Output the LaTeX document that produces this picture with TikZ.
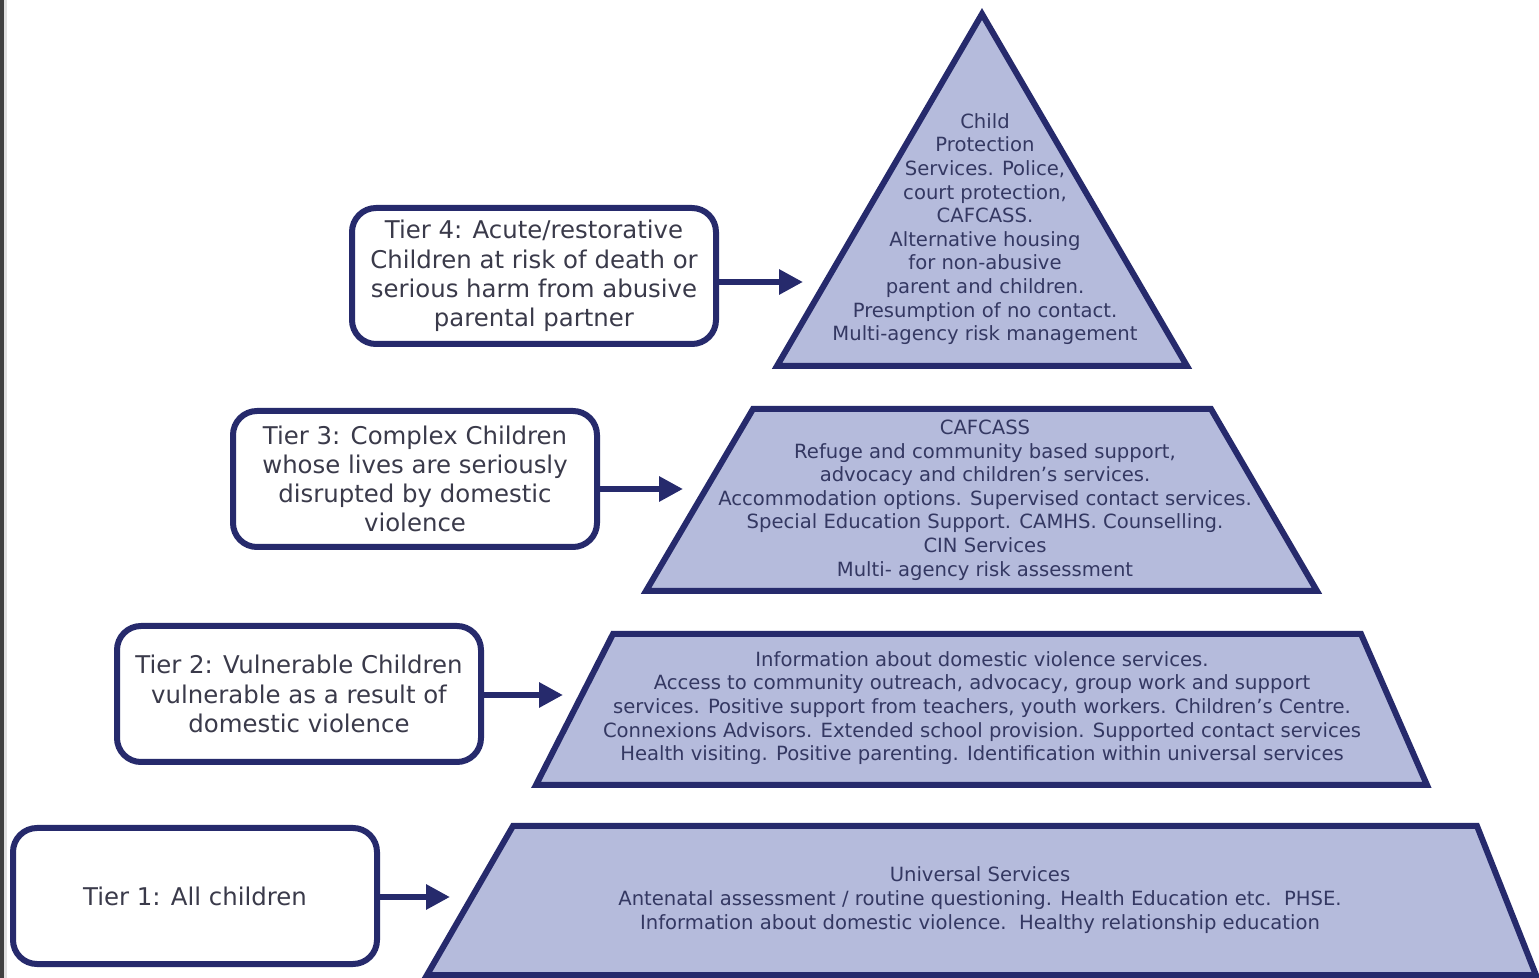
\documentclass[tikz,border=0pt]{standalone}
\usepackage{fontspec}
\setmainfont{DejaVu Sans}
\usetikzlibrary{arrows.meta}

\definecolor{navy}{RGB}{38,42,108}
\definecolor{tierfill}{RGB}{181,187,220}
\definecolor{tiertext}{RGB}{52,56,98}
\definecolor{boxtext}{RGB}{58,58,74}

\tikzset{
  tierbox/.style={draw=navy, line width=3pt, rounded corners=12pt, fill=white,
    text=boxtext, align=center, minimum width=182pt, minimum height=68pt,
    inner sep=2pt, font=\fontsize{12.2}{14.6}\selectfont},
  tiershape/.style={draw=navy, line width=3pt, fill=tierfill, line join=miter},
  tiertext/.style={text=tiertext, align=center, inner sep=0pt,
    font=\fontsize{9.8}{11.8}\selectfont},
  tierarrow/.style={draw=navy, line width=3pt,
    -{Triangle[length=12pt,width=12pt]}}
}

\begin{document}
\begin{tikzpicture}[x=0.5pt, y=-0.5pt]
    \fill[white] (0,0) rectangle (1539,978);
    \useasboundingbox (0,0) rectangle (1539,978);
    \fill[black!75] (0,0) rectangle (4,978);
    \fill[black!12] (4,0) rectangle (7,978);

    % pyramid
    \draw[tiershape] (982,14) -- (1187,366) -- (777,366) -- cycle;
    \draw[tiershape] (753,409) -- (1211,409) -- (1317,591) -- (646,591) -- cycle;
    \draw[tiershape] (613,634) -- (1361,634) -- (1427,785) -- (536,785) -- cycle;
    \draw[tiershape] (513,826) -- (1477,826) -- (1536,975) -- (427,975) -- cycle;

    \node[tiertext] (p4) at (985,229) {Child\\Protection\\Services. Police,\\court protection,\\CAFCASS.\\Alternative housing\\for non-abusive\\parent and children.\\Presumption of no contact.\\Multi-agency risk management};
    \node[tiertext] (p3) at (985,500) {CAFCASS\\Refuge and community based support,\\advocacy and children’s services.\\Accommodation options. Supervised contact services.\\Special Education Support. CAMHS. Counselling.\\CIN Services\\Multi- agency risk assessment};
    \node[tiertext] (p2) at (982,708) {Information about domestic violence services.\\Access to community outreach, advocacy, group work and support\\services. Positive support from teachers, youth workers. Children’s Centre.\\Connexions Advisors. Extended school provision. Supported contact services\\Health visiting. Positive parenting. Identification within universal services};
    \node[tiertext] (p1) at (980,900) {Universal Services\\Antenatal assessment / routine questioning. Health Education etc.\ \ PHSE.\\Information about domestic violence.\ \ Healthy relationship education};

    % tiers
    \node[tierbox] (t4) at (534,276) {Tier 4: Acute/restorative\\Children at risk of death or\\serious harm from abusive\\parental partner};
    \node[tierbox] (t3) at (415,479) {Tier 3: Complex Children\\whose lives are seriously\\disrupted by domestic\\violence};
    \node[tierbox] (t2) at (299,694) {Tier 2: Vulnerable Children\\vulnerable as a result of\\domestic violence};
    \node[tierbox] (t1) at (195,896) {Tier 1: All children};

    \coordinate (a4) at (803,282);
    \coordinate (a3) at (683,489);
    \coordinate (a2) at (563,695);
    \coordinate (a1) at (450,897);

    \draw[tierarrow] (t4.east |- a4) -- (a4);
    \draw[tierarrow] (t3.east |- a3) -- (a3);
    \draw[tierarrow] (t2.east |- a2) -- (a2);
    \draw[tierarrow] (t1.east |- a1) -- (a1);
\end{tikzpicture}
\end{document}
